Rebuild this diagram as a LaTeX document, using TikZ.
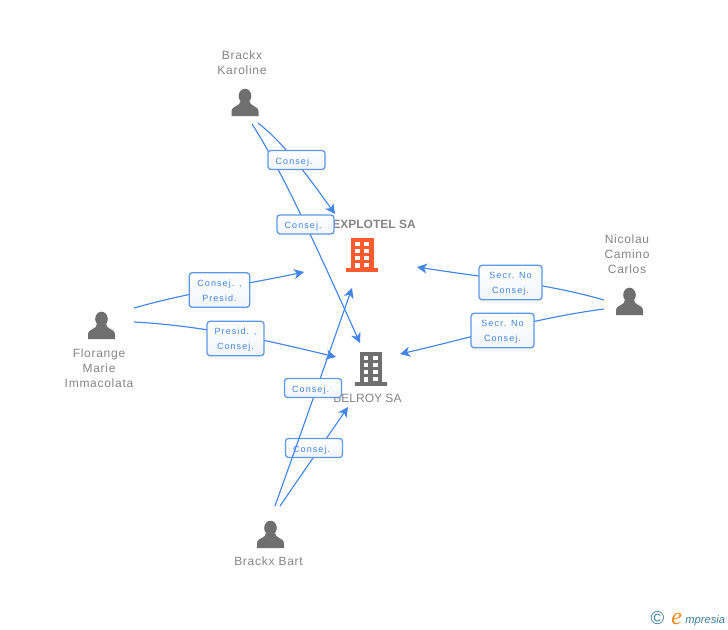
\documentclass[tikz,border=0pt]{standalone}
\usepackage{fontspec}
\setmainfont{Liberation Sans}
\newfontfamily\namefont[LetterSpace=6]{Liberation Sans}
\newfontfamily\boxfont[LetterSpace=12]{Liberation Sans}
\newfontfamily\logofont{Liberation Sans}
\newfontfamily\logoe{Liberation Serif}
\usetikzlibrary{arrows.meta,positioning}
\pgfdeclarelayer{bglines}
\pgfdeclarelayer{toplabels}
\pgfsetlayers{bglines,main,toplabels}
\definecolor{linkblue}{HTML}{4285E4}
\definecolor{boxblue}{HTML}{5C98E6}
\definecolor{boxbottom}{HTML}{F2F4F8}
\definecolor{greyicon}{HTML}{6F6F6F}
\definecolor{greytext}{HTML}{858585}
\definecolor{orangeicon}{HTML}{FF5A30}
\definecolor{logoorange}{HTML}{F08A1D}
\definecolor{teal}{HTML}{3F7F9C}
\tikzset{
  x=0.75pt,y=-0.75pt,
  role/.style={draw=boxblue,line width=0.95pt,rounded corners=2.25pt,top color=white,bottom color=boxbottom,
    text=linkblue,inner sep=0pt,align=center,
    font=\boxfont\fontsize{6.75pt}{11.25pt}\selectfont},
  role1/.style={role,minimum width=42.75pt,minimum height=14.25pt},
  role2/.style={role,minimum height=25.8pt},
  link/.style={draw=linkblue,line width=0.85pt},
  arrowlink/.style={link,-{Stealth[length=7.5pt,width=7.5pt,inset=2.2pt]}},
  who/.style={text=greytext,align=center,inner sep=0pt,font=\namefont\fontsize{9pt}{11.25pt}\selectfont},
  firm/.style={text=greytext,inner sep=0pt,font=\fontsize{9pt}{11.25pt}\selectfont},
  logotext/.style={inner sep=0pt,anchor=base west},
}
\newcommand{\lift}{\rule{0pt}{6.6pt}}
\newcommand{\liftone}{\rule{0pt}{8.1pt}\hspace*{0pt}}
\newcommand{\tail}{\hspace*{3.5pt}}
\newcommand{\personicon}[2]{%
  \begin{scope}[shift={(#1,#2)}]
    \fill[greyicon] (0,-6.5) ellipse (6.3 and 7.3);
    \fill[greyicon] (-13.5,13.7) -- (-13.5,9) .. controls (-13.5,5.5) and (-10.5,4.5) .. (-8,3)
      .. controls (-5.5,2) and (-5,1) .. (-5,-1) -- (5,-1) .. controls (5,1) and (5.5,2) .. (8,3)
      .. controls (10.5,4.5) and (13.5,5.5) .. (13.5,9) -- (13.5,13.7) -- cycle;
  \end{scope}}
\newcommand{\buildingicon}[3]{%
  \begin{scope}[shift={(#1,#2)}]
    \fill[#3] (0,0) rectangle (22.5,30);
    \fill[#3] (-5,30) rectangle (27,34);
    \foreach \yy in {4,11,18}{
      \fill[white] (4,\yy) rectangle (8.5,\yy+4);
      \fill[white] (13,\yy) rectangle (18,\yy+4);
    }
    \fill[white] (4,25) rectangle (8.5,30);
    \fill[white] (13,25) rectangle (18,29);
  \end{scope}}
\begin{document}
\begin{tikzpicture}
\useasboundingbox (0,0) rectangle (728,630);
\begin{pgfonlayer}{bglines}
\fill[white] (0,0) rectangle (728,630);
\end{pgfonlayer}

% free connector ends
\coordinate (karA) at (258,123);
\coordinate (karB) at (252,124);
\coordinate (florA) at (134,308);
\coordinate (florB) at (134,322);
\coordinate (nicA) at (604,300);
\coordinate (nicB) at (604,309);
\coordinate (bartA) at (275,506);
\coordinate (bartB) at (280,506);
\coordinate (expTop) at (335,214);
\coordinate (expLeft) at (304,272);
\coordinate (expRight) at (417,267);
\coordinate (expBottom) at (352,288);
\coordinate (belTop) at (360,343);
\coordinate (belLeft) at (336,357);
\coordinate (belRight) at (400,354);
\coordinate (belBottom) at (348,407);

% icons and names
\personicon{245}{102.5}
\personicon{101.5}{325.5}
\personicon{629.5}{301.5}
\personicon{270.5}{534.5}
\buildingicon{351}{238}{orangeicon}
\buildingicon{359.5}{352}{greyicon}
\node[who] (karoline) at (242,62.5) {Brackx\\Karoline};
\node[who] (florange) at (99,368) {Florange\\Marie\\Immacolata};
\node[who] (nicolau) at (627,254) {Nicolau\\Camino\\Carlos};
\node[who] (bart) at (268.5,561.5) {Brackx Bart};
\node[firm,font=\bfseries\fontsize{9pt}{11.25pt}\selectfont] (explotel) at (374,224) {EXPLOTEL SA};
\node[firm] (belroy) at (367.5,398) {BELROY SA};

% connectors behind the labels
\begin{pgfonlayer}{bglines}
\draw[arrowlink] (bartB) .. controls (302,474) and (326,439) .. (belBottom);
\end{pgfonlayer}
\draw[arrowlink] (karA) .. controls (280,140) and (300,165) .. (expTop);
\draw[arrowlink] (karB) .. controls (283,172) and (320,255) .. (belTop);
\draw[arrowlink] (florA) .. controls (190,292) and (248,284) .. (expLeft);
\draw[arrowlink] (florB) .. controls (205,326) and (265,340) .. (belLeft);
\draw[arrowlink] (nicA) .. controls (545,283) and (480,277) .. (expRight);
\draw[arrowlink] (nicB) .. controls (535,318) and (470,338) .. (belRight);

% labels
\begin{pgfonlayer}{toplabels}
\node[role1] (r1) at (296.5,160) {\liftone Consej.\tail};
\node[role1] (r2) at (305.5,224.5) {\liftone Consej.\tail};
\node[role2,minimum width=45.5pt] (r3) at (219.5,290) {\lift Consej. ,\\Presid.};
\node[role2,minimum width=42.75pt] (r4) at (235.5,338.5) {\lift Presid. ,\\Consej.};
\node[role2,minimum width=47.25pt] (r5) at (510.5,282.5) {\lift Secr. No\\Consej.};
\node[role2,minimum width=47.25pt] (r6) at (502.5,330.5) {\lift Secr. No\\Consej.};
\node[role1] (r7) at (313,388) {\liftone Consej.\tail};
\end{pgfonlayer}
\node[role1] (r8) at (314,448) {\liftone Consej.\tail};
\draw[arrowlink] (bartA) .. controls (300,436) and (326,362) .. (expBottom);

% logo
\node[inner sep=0pt,text=teal,font=\logofont\fontsize{14pt}{14pt}\selectfont] (copyright) at (657.5,618.5) {©};
\node[logotext,text=logoorange,font=\logoe\itshape\fontsize{18pt}{18pt}\selectfont] (logoE) at (671,624) {e};
\node[logotext,text=teal,font=\logofont\itshape\fontsize{8.4pt}{8.4pt}\selectfont] (logoT) at (685,623) {mpresia};
\end{tikzpicture}
\end{document}
